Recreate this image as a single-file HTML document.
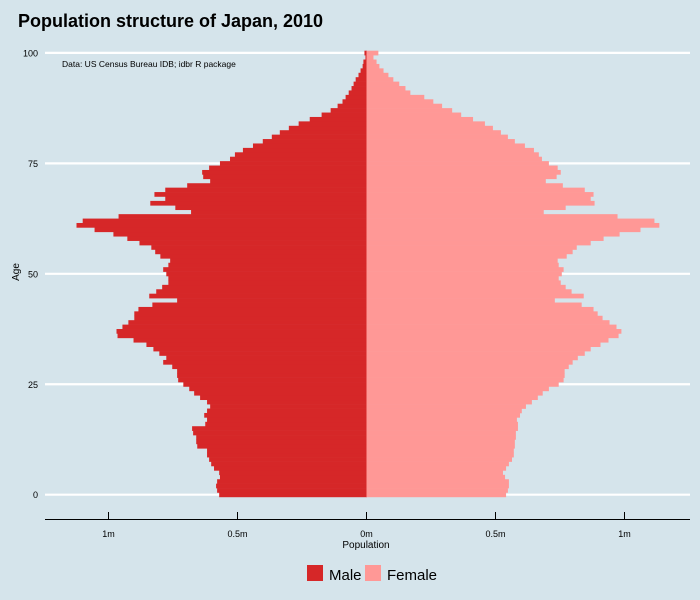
<!DOCTYPE html>
<html><head><meta charset="utf-8"><style>
body{margin:0;background:#d5e4eb;}
svg{display:block;font-family:"Liberation Sans",sans-serif;}
</style></head><body>
<svg id="chart" width="700" height="600">
<rect x="0" y="0" width="700" height="600" fill="#d5e4eb"/>
<text x="18" y="27" font-size="18" font-weight="bold" fill="#000">Population structure of Japan, 2010</text>
<g id="grid"></g>
<g id="bars"></g>
<text x="62" y="67" font-size="8.5" fill="#000">Data: US Census Bureau IDB; idbr R package</text>
<g id="axes"></g>
<text x="366" y="548" font-size="10" text-anchor="middle" fill="#000">Population</text>
<text transform="translate(19,272) rotate(-90)" font-size="10" text-anchor="middle" fill="#000">Age</text>
<g>
<rect x="307" y="565" width="16" height="16" fill="#d62728"/>
<text x="329" y="580" font-size="15" fill="#000">Male</text>
<rect x="365" y="565" width="16" height="16" fill="#ff9896"/>
<text x="387" y="580" font-size="15" fill="#000">Female</text>
</g>
</svg>
<script>
const maleMillions = [0.571,0.579,0.583,0.579,0.568,0.571,0.591,0.602,0.610,0.618,0.618,0.656,0.660,0.660,0.672,0.676,0.625,0.618,0.629,0.618,0.606,0.618,0.645,0.668,0.687,0.710,0.730,0.734,0.734,0.753,0.788,0.776,0.803,0.826,0.853,0.903,0.965,0.969,0.946,0.923,0.900,0.900,0.884,0.830,0.734,0.842,0.815,0.792,0.768,0.768,0.776,0.788,0.768,0.761,0.799,0.819,0.834,0.880,0.927,0.981,1.054,1.124,1.100,0.961,0.680,0.741,0.838,0.780,0.822,0.780,0.695,0.606,0.633,0.637,0.610,0.568,0.529,0.510,0.479,0.440,0.402,0.367,0.336,0.301,0.263,0.220,0.174,0.139,0.112,0.093,0.081,0.069,0.058,0.050,0.042,0.031,0.023,0.015,0.012,0.004,0.008];
const femaleMillions = [0.541,0.548,0.552,0.552,0.537,0.529,0.541,0.552,0.564,0.571,0.571,0.575,0.575,0.579,0.579,0.587,0.587,0.583,0.595,0.602,0.618,0.641,0.664,0.683,0.707,0.745,0.764,0.768,0.768,0.784,0.799,0.819,0.846,0.869,0.907,0.938,0.977,0.988,0.969,0.942,0.915,0.896,0.880,0.834,0.730,0.842,0.795,0.772,0.753,0.745,0.757,0.764,0.745,0.741,0.776,0.799,0.815,0.869,0.919,0.981,1.062,1.135,1.116,0.973,0.687,0.772,0.884,0.869,0.880,0.846,0.761,0.695,0.737,0.753,0.741,0.707,0.680,0.668,0.649,0.614,0.575,0.548,0.521,0.490,0.459,0.413,0.367,0.332,0.293,0.259,0.224,0.170,0.151,0.127,0.104,0.085,0.066,0.050,0.039,0.027,0.046];
const ageTicks = [0,25,50,75,100];
const xTickValues = [-1,-0.5,0,0.5,1];
const xTickLabels = ["1m","0.5m","0m","0.5m","1m"];

const NS="http://www.w3.org/2000/svg";
const X0=366.5, PXM=258, Y0=494.7, PYA=4.418;
const xScale=v=>X0+v*PXM;
const yScale=a=>Y0-a*PYA;
function mk(tag,attrs,parent){const e=document.createElementNS(NS,tag);for(const k in attrs)e.setAttribute(k,attrs[k]);parent.appendChild(e);return e;}
const grid=document.getElementById('grid'),bars=document.getElementById('bars'),axes=document.getElementById('axes');
ageTicks.forEach(a=>{
  const l=mk('line',{x1:45,x2:690,y1:yScale(a),y2:yScale(a),stroke:'#fff','stroke-width':2.2},grid);
  
  
  const t=mk('text',{x:38,y:yScale(a)+3.5,'font-size':9,'text-anchor':'end',fill:'#000'},axes);
  t.textContent=a;
  
  
});
maleMillions.forEach((v,a)=>{
  const x=xScale(-v);
  const r=mk('rect',{x:x,y:yScale(a)-PYA/2,width:xScale(0)-x+0.5,height:PYA+0.3,fill:'#d62728'},bars);
  
  
});
femaleMillions.forEach((v,a)=>{
  const r=mk('rect',{x:xScale(0),y:yScale(a)-PYA/2,width:xScale(v)-xScale(0),height:PYA+0.3,fill:'#ff9896'},bars);
  
  
});
const ax=mk('line',{x1:45,x2:690,y1:519.5,y2:519.5,stroke:'#000','stroke-width':1},axes);


xTickValues.forEach((v,i)=>{
  const tk=mk('line',{x1:xScale(v),x2:xScale(v),y1:512,y2:519.5,stroke:'#000','stroke-width':1},axes);
  
  
  const t=mk('text',{x:xScale(v),y:537,'font-size':9,'text-anchor':'middle',fill:'#000'},axes);
  t.textContent=xTickLabels[i];
  
  
});
</script>
</body></html>
